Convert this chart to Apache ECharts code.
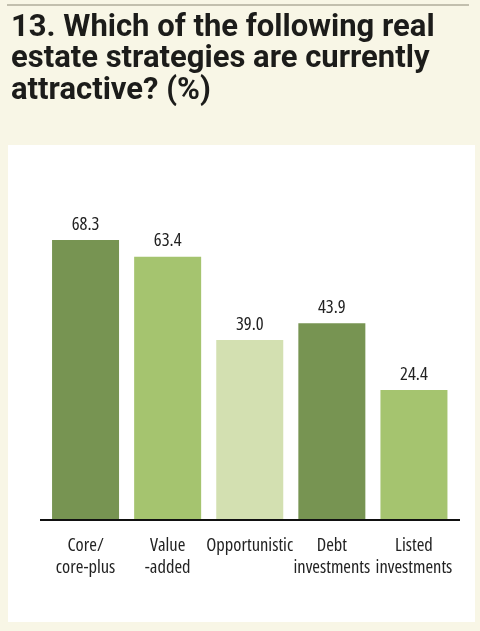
<!DOCTYPE html>
<html>
<head>
<meta charset="utf-8">
<script src="https://cdn.jsdelivr.net/npm/echarts@6/dist/echarts.min.js"></script>
<style>
html,body{margin:0;padding:0;background:#f8f6e6;}
#main{width:480px;height:631px;}
</style>
</head>
<body>
<div id="main"></div>
<script>
var categories = ['Core/\ncore-plus', 'Value\n-added', 'Opportunistic', 'Debt\ninvestments', 'Listed\ninvestments'];
var values = [68.3, 63.4, 39.0, 43.9, 24.4];
var colors = ['#779452', '#a5c46f', '#d3e0b1', '#779452', '#a5c46f'];

// font-stretch goes in through fontWeight, echarts puts it into the canvas font string
var narrow = '"Open Sans", "DejaVu Sans Condensed", sans-serif';

var chart = echarts.init(document.getElementById('main'));
var data = [];
for (var i = 0; i < values.length; i++) {
	data.push({value: values[i], itemStyle: {color: colors[i]}});
}

var option = {
	backgroundColor: '#f8f6e6',
	title: {
		text: '13. Which of the following real\nestate strategies are currently\nattractive? (%)',
		left: 6,
		top: 7,
		textStyle: {
			fontFamily: 'Roboto, "DejaVu Sans Condensed", sans-serif',
			fontWeight: 'bold',
			fontSize: 31,
			lineHeight: 31.5,
			color: '#1c1c1a'
		}
	},
	graphic: [
		{type: 'line', shape: {x1: 7, y1: 5, x2: 469, y2: 5}, style: {stroke: '#8c8877', lineWidth: 1}, z: 0},
		{type: 'rect', shape: {x: 8, y: 145, width: 467, height: 477}, style: {fill: '#ffffff'}, z: -1},
		{type: 'line', shape: {x1: 40, y1: 520, x2: 460, y2: 520}, style: {stroke: '#111', lineWidth: 2}, z: 10}
	],
	grid: {left: 44.5, right: 25, top: 200, bottom: 111},
	xAxis: {
		type: 'category',
		data: categories,
		axisLine: {show: false},
		axisTick: {show: false},
		axisLabel: {
			interval: 0,
			margin: 15,
			fontFamily: narrow,
			fontWeight: 'condensed',
			fontSize: 18.5,
			lineHeight: 22,
			color: '#222'
		}
	},
	yAxis: {
		type: 'value',
		min: -13.65,
		max: 80,
		startValue: -13.65,
		show: false,
		splitLine: {show: false}
	},
	series: [{
		type: 'bar',
		barWidth: 67,
		data: data,
		label: {
			show: true,
			position: 'top',
			distance: 6,
			formatter: function (p) { return p.value.toFixed(1); },
			fontFamily: narrow,
			fontWeight: 'condensed',
			fontSize: 18.5,
			color: '#222'
		}
	}]
};
chart.setOption(option);
</script>
</body>
</html>
